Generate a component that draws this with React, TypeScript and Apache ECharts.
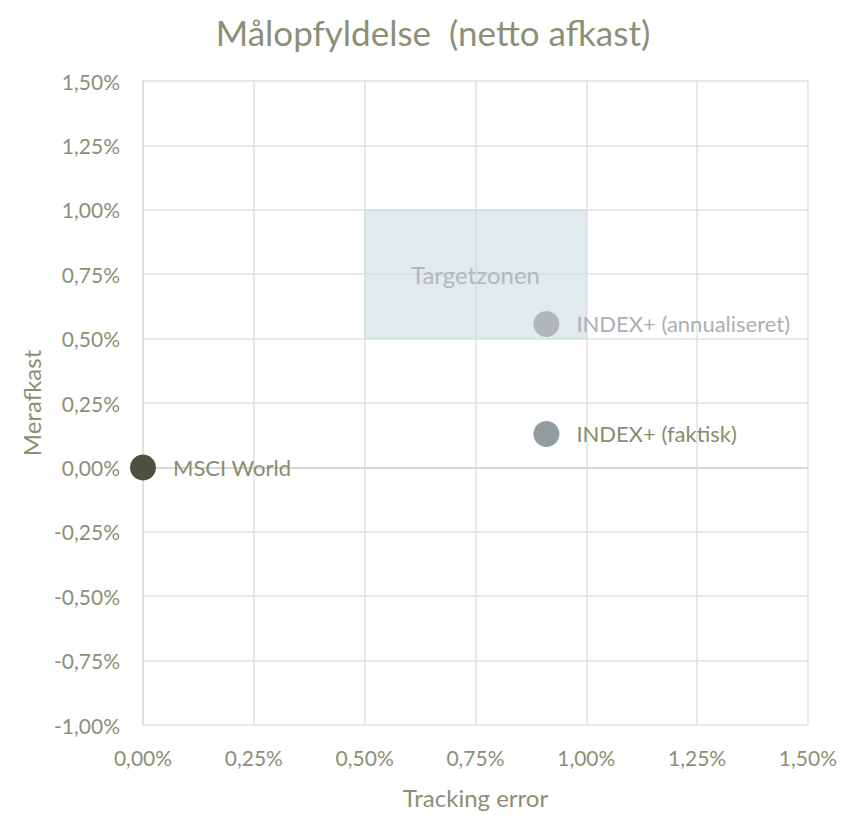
import React, { useEffect, useRef } from "react";
import * as echarts from "echarts";

const seriesNames = ["MSCI World", "INDEX+ (faktisk)", "INDEX+ (annualiseret)"];
const trackingError = [0.0, 0.91, 0.91];
const merafkast = [0.0, 0.13, 0.557];
const pointColors = ["#4d5040", "#939c9e", "#b1b6ba"];
const labelColors = ["#8a8c72", "#8a8c72", "#aab0b4"];
const targetZone = { x: [0.5, 1.0], y: [0.5, 1.0], label: "Targetzonen" };

const FONT = "Lato, 'Open Sans', sans-serif";
const TEXT = "#8c8f76";
const fmt = (v: number) => v.toFixed(2).replace(".", ",") + "%";

export default function App() {
  const ref = useRef<HTMLDivElement>(null);
  useEffect(() => {
    if (!ref.current) return;
    const chart = echarts.init(ref.current, undefined, { renderer: "svg" });
    const series: any[] = seriesNames.map((name, i) => ({
      type: "scatter",
      name,
      symbolSize: 26,
      data: [[trackingError[i], merafkast[i]]],
      itemStyle: { color: pointColors[i], opacity: 1 },
      label: {
        show: true,
        position: "right",
        distance: 17,
        formatter: name,
        color: labelColors[i],
        fontSize: 22,
        fontFamily: FONT,
      },
      z: 5,
    }));
    series.push({
      type: "scatter",
      data: [],
      silent: true,
      markArea: {
        silent: true,
        itemStyle: { color: "rgba(196,216,221,0.5)", borderColor: "#d3e1e4", borderWidth: 1 },
        label: {
          show: true,
          position: "inside",
          color: "#b3b7ba",
          fontSize: 24,
          fontFamily: FONT,
        },
        data: [
          [
            { name: targetZone.label, xAxis: targetZone.x[0], yAxis: targetZone.y[0] },
            { xAxis: targetZone.x[1], yAxis: targetZone.y[1] },
          ],
        ],
      },
      markLine: {
        silent: true,
        symbol: "none",
        label: { show: false },
        lineStyle: { color: "#d2d3c8", width: 1.5, type: "solid" },
        data: [{ yAxis: 0 }],
      },
      z: 1,
    });
    chart.setOption({
      animation: false,
      backgroundColor: "#ffffff",
      title: {
        text: "Målopfyldelse  (netto afkast)",
        left: 420,
        top: 1,
        textAlign: "center",
        textStyle: { color: TEXT, fontSize: 35, fontWeight: "normal", fontFamily: FONT },
      },
      grid: { left: 135, right: 27, top: 73, bottom: 78 },
      xAxis: {
        type: "value",
        min: 0,
        max: 1.5,
        interval: 0.25,
        name: "Tracking error",
        nameLocation: "middle",
        nameGap: 60,
        nameTextStyle: { color: TEXT, fontSize: 24, fontFamily: FONT },
        axisLine: { show: false },
        axisTick: { show: false },
        axisLabel: { color: TEXT, fontSize: 21, fontFamily: FONT, margin: 22, formatter: fmt },
        splitLine: { show: true, lineStyle: { color: "#e3e3dc", width: 1.5 } },
      },
      yAxis: {
        type: "value",
        min: -1,
        max: 1.5,
        interval: 0.25,
        name: "Merafkast",
        nameLocation: "middle",
        nameGap: 96,
        nameTextStyle: { color: TEXT, fontSize: 24, fontFamily: FONT },
        axisLine: { show: true, onZero: false, lineStyle: { color: "#dcdcd4", width: 1.5 } },
        axisTick: { show: false },
        axisLabel: { color: TEXT, fontSize: 21, fontFamily: FONT, margin: 23, padding: [3, 0, 0, 0], formatter: fmt },
        splitLine: { show: true, lineStyle: { color: "#e3e3dc", width: 1.5 } },
      },
      series,
    });
    return () => chart.dispose();
  }, []);
  return <div ref={ref} style={{ width: 832, height: 806 }} />;
}
